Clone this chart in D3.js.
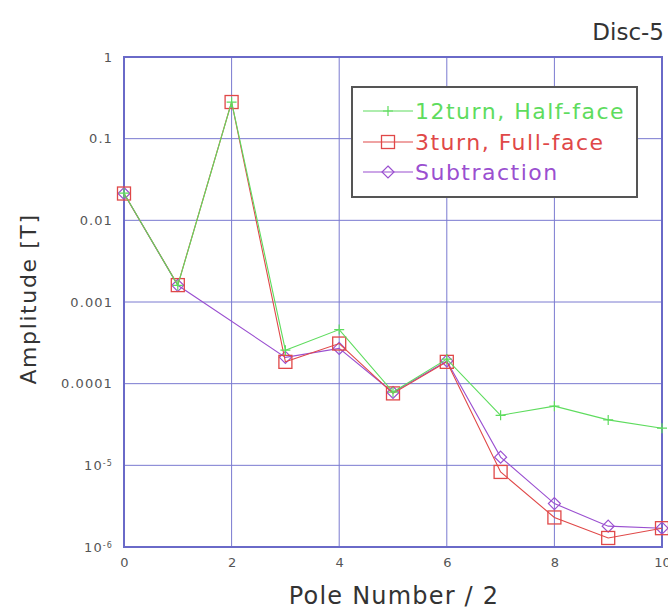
<!DOCTYPE html>
<html>
<head>
<meta charset="utf-8">
<script src="https://cdnjs.cloudflare.com/ajax/libs/d3/7.8.5/d3.min.js"></script>
<style>
  html, body { margin: 0; padding: 0; background: #fff; }
  svg { display: block; }
  text { font-family: "DejaVu Sans", "Noto Sans", sans-serif; }
</style>
</head>
<body>
<svg id="chart" width="668" height="612"></svg>
<script>
// Harmonic index (pole number / 2)
const poles = [0, 1, 2, 3, 4, 5, 6, 7, 8, 9, 10];

// Field amplitude [T] per harmonic
const halfFace12 = [0.0215, 0.0016, 0.28, 2.57e-4, 4.6e-4, 7.9e-5, 2.0e-4, 4.1e-5, 5.3e-5, 3.6e-5, 2.85e-5];
const fullFace3  = [0.0213, 0.00161, 0.281, 1.85e-4, 3.1e-4, 7.6e-5, 1.85e-4, 8.3e-6, 2.3e-6, 1.29e-6, 1.7e-6];
const subtraction = [0.0213, 0.0016, null, 2.1e-4, 2.7e-4, 7.8e-5, 1.9e-4, 1.26e-5, 3.4e-6, 1.8e-6, 1.7e-6];

const xTicks = [0, 2, 4, 6, 8, 10];
const yTicks = [1, 0.1, 0.01, 0.001, 0.0001, 1e-5, 1e-6];
const yTickLabels = [["1"], ["0.1"], ["0.01"], ["0.001"], ["0.0001"], ["10", "-5"], ["10", "-6"]];

const seriesNames = ["12turn, Half-face", "3turn, Full-face", "Subtraction"];
const seriesColors = ["#5edc5e", "#e04848", "#9a4fd0"];
const seriesMarkers = ["plus", "square", "diamond"];

const svg = d3.select("#chart");
const m = { left: 124, right: 662, top: 57, bottom: 547 };

const x = d3.scaleLinear().domain([0, 10]).range([m.left, m.right]);
const y = d3.scaleLog().domain([1e-6, 1]).range([m.bottom, m.top]);

const gridColor = "#7a7ad0";

// grid
const grid = svg.append("g");
grid.selectAll("line.v").data(xTicks).join("line")
  .attr("x1", d => x(d)).attr("x2", d => x(d))
  .attr("y1", m.top).attr("y2", m.bottom)
  .attr("stroke", gridColor).attr("stroke-width", 1);
grid.selectAll("line.h").data(yTicks).join("line")
  .attr("x1", m.left).attr("x2", m.right)
  .attr("y1", d => y(d)).attr("y2", d => y(d))
  .attr("stroke", gridColor).attr("stroke-width", 1);

// axes (labels only; tick marks are covered by the grid)
const xAxis = d3.axisBottom(x).tickValues(xTicks).tickSize(0).tickPadding(11).tickFormat(d3.format("d"));
const gx = svg.append("g").attr("transform", `translate(0,${m.bottom})`).call(xAxis);
gx.select(".domain").remove();
gx.selectAll("text").attr("font-size", 13).attr("fill", "#555")
  .attr("font-family", "'DejaVu Sans', sans-serif");

const yAxis = d3.axisLeft(y).tickValues(yTicks).tickSize(0).tickPadding(11).tickFormat(() => "");
const gy = svg.append("g").attr("transform", `translate(${m.left},0)`).call(yAxis);
gy.select(".domain").remove();
gy.selectAll(".tick text").each(function (d, i) {
  const t = d3.select(this).attr("font-size", 13).attr("fill", "#555")
    .attr("font-family", "'DejaVu Sans', sans-serif").attr("dy", "0.32em")
    .attr("letter-spacing", 1.1);
  const parts = yTickLabels[i];
  t.append("tspan").text(parts[0]);
  if (parts.length > 1) {
    t.append("tspan").attr("dy", "-0.5em").attr("font-size", 8).text(parts[1]);
  }
});
gy.selectAll(".tick text").attr("x", -11);

// frame
svg.append("rect")
  .attr("x", m.left).attr("y", m.top)
  .attr("width", m.right - m.left).attr("height", m.bottom - m.top)
  .attr("fill", "none").attr("stroke", "#6a6ac8").attr("stroke-width", 2);

// series
const allSeries = [halfFace12, fullFace3, subtraction];
const line = d3.line().x(d => x(d.p)).y(d => y(d.v));

function drawMarker(g, type, color, cx, cy) {
  if (type === "plus") {
    g.append("path").attr("d", `M${cx - 5},${cy}H${cx + 5}M${cx},${cy - 5}V${cy + 5}`)
      .attr("stroke", color).attr("stroke-width", 1.2).attr("fill", "none");
  } else if (type === "square") {
    g.append("rect").attr("x", cx - 6.5).attr("y", cy - 6.5).attr("width", 13).attr("height", 13)
      .attr("stroke", color).attr("stroke-width", 1.3).attr("fill", "none");
  } else {
    g.append("path").attr("d", `M${cx},${cy - 6}L${cx + 6},${cy}L${cx},${cy + 6}L${cx - 6},${cy}Z`)
      .attr("stroke", color).attr("stroke-width", 1.2).attr("fill", "none");
  }
}

// draw in order: subtraction, full-face, half-face on top
[2, 1, 0].forEach(si => {
  const pts = poles.map((p, i) => ({ p, v: allSeries[si][i] })).filter(d => d.v != null);
  const g = svg.append("g");
  g.append("path").datum(pts).attr("d", line)
    .attr("fill", "none").attr("stroke", seriesColors[si]).attr("stroke-width", 1.1);
  pts.forEach(d => drawMarker(g, seriesMarkers[si], seriesColors[si], x(d.p), y(d.v)));
});

// legend
const lg = svg.append("g");
lg.append("rect").attr("x", 352).attr("y", 87).attr("width", 285).attr("height", 110)
  .attr("fill", "#fff").attr("stroke", "#555").attr("stroke-width", 2);
const rowY = [111, 142, 172];
seriesNames.forEach((name, i) => {
  const yy = rowY[i];
  lg.append("line").attr("x1", 363).attr("x2", 413).attr("y1", yy).attr("y2", yy)
    .attr("stroke", seriesColors[i]).attr("stroke-width", 1.2);
  drawMarker(lg, seriesMarkers[i], seriesColors[i], 388, yy);
  lg.append("text").attr("x", 415).attr("y", yy).attr("dy", "0.35em")
    .attr("font-size", 22).attr("letter-spacing", 1.5)
    .attr("fill", seriesColors[i]).text(name);
});

// titles
svg.append("text").attr("x", 664).attr("y", 40).attr("text-anchor", "end")
  .attr("font-size", 23).attr("fill", "#333").text("Disc-5");
svg.append("text").attr("x", 394).attr("y", 604).attr("text-anchor", "middle")
  .attr("font-size", 24).attr("letter-spacing", 1.2).attr("fill", "#333").text("Pole Number / 2");
svg.append("text").attr("transform", "translate(36,299) rotate(-90)").attr("text-anchor", "middle")
  .attr("font-size", 22).attr("letter-spacing", 1.6).attr("fill", "#333").text("Amplitude [T]");
</script>
</body>
</html>
